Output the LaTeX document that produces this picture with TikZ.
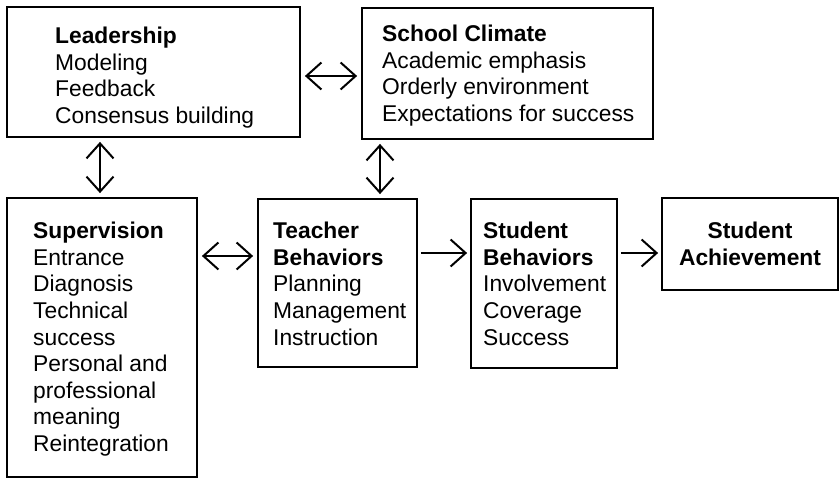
\documentclass[tikz,border=0pt]{standalone}
\usepackage{fontspec}
\setmainfont{Liberation Sans}
\usetikzlibrary{arrows.meta}
\begin{document}
\begin{tikzpicture}[x=1pt,y=-1pt,
  box/.style={draw,line width=1.8pt,inner sep=0pt},
  txt/.style={anchor=north west,inner sep=0pt,align=left,font=\fontsize{22.8}{26.6}\selectfont},
  ctxt/.style={anchor=north,inner sep=0pt,align=center,font=\fontsize{22.8}{26.6}\selectfont},
  dbl/.style={line width=2pt,{Straight Barb[length=15pt,width=27pt,line width=2pt]}-{Straight Barb[length=15pt,width=27pt,line width=2pt]},shorten <=4pt,shorten >=4pt},
  sgl/.style={line width=2pt,-{Straight Barb[length=15pt,width=27pt,line width=2pt]},shorten <=3pt,shorten >=3pt}]
\useasboundingbox[fill=white] (0,0) rectangle (840,479);
% boxes
\node[box,minimum width=293pt,minimum height=130pt] (lead) at (153.5,72) {};
\node[box,minimum width=291pt,minimum height=131pt] (clim) at (507.5,73.5) {};
\node[box,minimum width=190pt,minimum height=279pt] (sup) at (102,337.5) {};
\node[box,minimum width=159pt,minimum height=168pt] (teach) at (337.5,283) {};
\node[box,minimum width=146pt,minimum height=169pt] (stud) at (544,283.5) {};
\node[box,minimum width=176pt,minimum height=92pt] (ach) at (750,244) {};
% texts
\node[txt] (leadt) at (55,27) {\textbf{Leadership}\\Modeling\\Feedback\\Consensus building};
\node[txt] (climt) at (382,25) {\textbf{School Climate}\\Academic emphasis\\Orderly environment\\Expectations for success};
\node[txt] (supt) at (33,222) {\textbf{Supervision}\\Entrance\\Diagnosis\\Technical\\success\\Personal and\\professional\\meaning\\Reintegration};
\node[txt] (teacht) at (273,222) {\textbf{Teacher}\\\textbf{Behaviors}\\Planning\\Management\\Instruction};
\node[txt] (studt) at (483,222) {\textbf{Student}\\\textbf{Behaviors}\\Involvement\\Coverage\\Success};
\node[ctxt] (acht) at (750,222) {\textbf{Student}\\\textbf{Achievement}};
% connectors
\coordinate (lc) at (lead.east |- 0,76);
\draw[dbl] (lc) -- (lc -| clim.west);
\coordinate (ls) at (lead.south -| 100,0);
\draw[dbl] (ls) -- (ls |- sup.north);
\coordinate (ct) at (clim.south -| 380,0);
\draw[dbl] (ct) -- (ct |- teach.north);
\coordinate (st) at (sup.east |- 0,256);
\draw[dbl] (st) -- (st -| teach.west);
\coordinate (ts) at (teach.east |- 0,253);
\draw[sgl] (ts) -- (ts -| stud.west);
\coordinate (sa) at (stud.east |- 0,253);
\draw[sgl] (sa) -- (sa -| ach.west);
\end{tikzpicture}
\end{document}
